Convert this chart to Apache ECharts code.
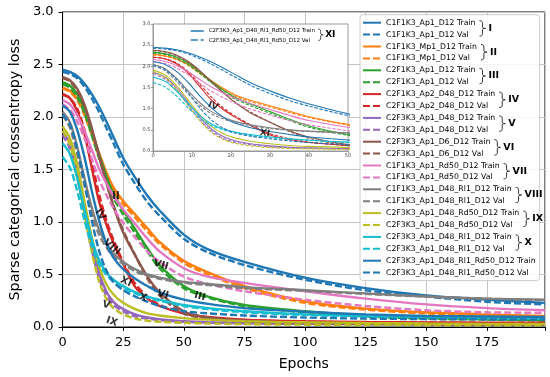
<!DOCTYPE html>
<html><head><meta charset="utf-8">
<script src="https://cdn.jsdelivr.net/npm/echarts@6/dist/echarts.min.js"></script>
<style>html,body{margin:0;padding:0;background:#fff}#c{width:550px;height:377px}</style>
</head><body><div id="c"></div>
<script>
// ---- data ----
const epochs = [0, 3, 6, 9, 12, 15, 18, 21, 25, 30, 35, 40, 50, 60, 75, 100, 125, 150, 175, 199];
const modelNames = [
  'C1F1K3_Ap1_D12', 'C1F1K3_Mp1_D12', 'C2F1K3_Ap1_D12', 'C2F1K3_Ap2_D48_D12',
  'C2F3K3_Ap1_D48_D12', 'C2F3K3_Ap1_D6_D12', 'C1F1K3_Ap1_Rd50_D12', 'C1F1K3_Ap1_D48_Rl1_D12',
  'C2F3K3_Ap1_D48_Rd50_D12', 'C2F3K3_Ap1_D48_Rl1_D12', 'C2F3K3_Ap1_D48_Rl1_Rd50_D12'];
const groupNumerals = ['I','II','III','IV','V','VI','VII','VIII','IX','X','XI'];

const I_train    = [2.45,2.43,2.39,2.32,2.22,2.10,1.96,1.81,1.61,1.42,1.25,1.11,0.88,0.74,0.62,0.47,0.37,0.30,0.26,0.23];
const I_val      = [2.43,2.41,2.37,2.29,2.18,2.05,1.90,1.75,1.55,1.36,1.19,1.06,0.84,0.71,0.59,0.45,0.35,0.29,0.24,0.215];
const II_train   = [2.28,2.25,2.18,2.05,1.86,1.66,1.48,1.33,1.20,1.07,0.94,0.81,0.63,0.52,0.39,0.245,0.175,0.14,0.12,0.105];
const II_val     = [2.27,2.24,2.16,2.02,1.83,1.63,1.45,1.30,1.17,1.04,0.91,0.79,0.61,0.50,0.37,0.23,0.165,0.13,0.11,0.10];
const III_train  = [2.33,2.30,2.22,2.08,1.87,1.65,1.44,1.27,1.11,0.93,0.75,0.59,0.39,0.29,0.21,0.15,0.11,0.09,0.075,0.065];
const III_val    = [2.31,2.28,2.19,2.04,1.83,1.61,1.40,1.23,1.07,0.89,0.72,0.56,0.37,0.28,0.20,0.14,0.10,0.08,0.07,0.06];
const IV_train   = [2.22,2.18,2.06,1.84,1.52,1.20,0.98,0.80,0.60,0.38,0.27,0.20,0.13,0.095,0.07,0.055,0.048,0.044,0.041,0.04];
const IV_val     = [2.21,2.18,2.08,1.88,1.58,1.27,1.02,0.83,0.62,0.41,0.29,0.21,0.13,0.09,0.065,0.05,0.044,0.04,0.037,0.035];
const V_train    = [1.86,1.75,1.50,1.15,0.80,0.52,0.34,0.24,0.17,0.12,0.09,0.075,0.055,0.045,0.038,0.032,0.029,0.027,0.025,0.024];
const V_val      = [1.83,1.70,1.44,1.08,0.74,0.47,0.30,0.21,0.15,0.10,0.08,0.066,0.05,0.042,0.035,0.03,0.027,0.025,0.023,0.022];
const VI_train   = [2.38,2.35,2.27,2.12,1.90,1.64,1.38,1.15,0.90,0.68,0.48,0.33,0.15,0.09,0.06,0.04,0.033,0.029,0.026,0.025];
const VI_val     = [2.37,2.34,2.25,2.10,1.88,1.63,1.38,1.16,0.92,0.68,0.46,0.30,0.13,0.08,0.055,0.04,0.032,0.028,0.025,0.024];
const VII_train  = [2.16,2.12,2.02,1.87,1.69,1.51,1.37,1.25,1.12,0.98,0.84,0.72,0.56,0.48,0.42,0.34,0.27,0.215,0.18,0.16];
const VII_val    = [2.12,2.07,1.96,1.80,1.60,1.41,1.26,1.13,0.99,0.85,0.72,0.62,0.48,0.41,0.34,0.26,0.20,0.16,0.14,0.135];
const VIII_train = [2.05,1.95,1.72,1.42,1.14,0.93,0.80,0.70,0.62,0.55,0.50,0.47,0.43,0.41,0.38,0.35,0.32,0.29,0.27,0.26];
const VIII_val   = [2.02,1.90,1.65,1.35,1.08,0.88,0.76,0.67,0.60,0.53,0.49,0.46,0.42,0.40,0.37,0.345,0.315,0.29,0.27,0.255];
const IX_train   = [1.91,1.80,1.55,1.20,0.86,0.58,0.41,0.31,0.23,0.17,0.13,0.11,0.085,0.07,0.055,0.045,0.038,0.033,0.03,0.028];
const IX_val     = [1.87,1.74,1.46,1.08,0.72,0.44,0.27,0.18,0.12,0.08,0.06,0.05,0.04,0.033,0.027,0.022,0.019,0.017,0.016,0.015];
const X_train    = [1.75,1.65,1.42,1.12,0.84,0.64,0.52,0.45,0.39,0.33,0.29,0.26,0.21,0.18,0.15,0.12,0.105,0.095,0.085,0.08];
const X_val      = [1.62,1.52,1.30,1.02,0.78,0.60,0.50,0.43,0.37,0.32,0.28,0.25,0.20,0.17,0.14,0.115,0.10,0.09,0.082,0.078];
const XI_train   = [2.11,2.05,1.88,1.62,1.30,1.02,0.80,0.66,0.55,0.46,0.39,0.33,0.26,0.22,0.18,0.145,0.12,0.105,0.10,0.095];
const XI_val     = [2.02,1.93,1.70,1.38,1.02,0.73,0.54,0.43,0.35,0.29,0.24,0.20,0.15,0.13,0.11,0.09,0.08,0.075,0.072,0.07];

const mainTicksX = [0, 25, 50, 75, 100, 125, 150, 175];
// curve labels: [text, epoch, loss, rotation]
const mainAnnotations = [
  ['I', 31.5, 1.37, 0], ['II', 22, 1.24, 0], ['IV', 15.6, 1.07, -55], ['VIII', 20.3, 0.76, -40],
  ['VII', 40.6, 0.59, -15], ['XI', 26.2, 0.43, -25], ['X', 33.2, 0.28, -20], ['VI', 41.4, 0.31, -15],
  ['V', 18, 0.21, -15], ['IX', 20.3, 0.05, -20], ['III', 56.6, 0.29, -15]];
const insetAnnotations = [['IV', 15.4, 1.06, -20], ['XI', 28.7, 0.42, -10]];

// ---- build ----
const trainCurves = [I_train, II_train, III_train, IV_train, V_train, VI_train, VII_train, VIII_train, IX_train, X_train, XI_train];
const valCurves = [I_val, II_val, III_val, IV_val, V_val, VI_val, VII_val, VIII_val, IX_val, X_val, XI_val];
const palette = ['#1f77b4','#ff7f0e','#2ca02c','#d62728','#9467bd','#8c564b','#e377c2','#7f7f7f','#bcbd22','#17becf','#1f77b4'];
const FONT = 'DejaVu Sans';

const series = [];
const legendNames = [];
function addLines(grid, width, dash, z) {
  modelNames.forEach((m, i) => {
    [['Train', trainCurves[i], 'solid'], ['Val', valCurves[i], dash]].forEach(([kind, vals, type]) => {
      const name = m + ' ' + kind;
      if (grid === 0) legendNames.push(name);
      series.push({
        type: 'line', name, xAxisIndex: grid, yAxisIndex: grid,
        data: epochs.map((e, k) => [e, vals[k]]),
        symbol: 'none', smooth: 0.3, z,
        lineStyle: { color: palette[i], width, type },
        itemStyle: { color: palette[i] }, silent: true
      });
    });
  });
}
addLines(0, 2.4, [7, 3], 2);
addLines(1, 1.1, [3.5, 1.6], 7);

function annoSeries(list, grid, size, z) {
  return {
    type: 'scatter', xAxisIndex: grid, yAxisIndex: grid, symbolSize: 0, silent: true, z,
    data: list.map(a => ({ value: [a[1], a[2]], label: { rotate: a[3] } })),
    label: { show: true, position: 'inside', formatter: p => list[p.dataIndex][0],
      fontFamily: FONT, fontWeight: 'bold', fontSize: size, color: '#000' }
  };
}
series.push(annoSeries(mainAnnotations, 0, 10, 3));
series.push(annoSeries(insetAnnotations, 1, 9, 8));

// braces next to legend pairs
const ctx = document.createElement('canvas').getContext('2d');
function tw(t, fs, w) { ctx.font = (w || 'normal') + ' ' + fs + 'px "' + FONT + '"'; return ctx.measureText(t).width; }
function quad(p0, p1, p2, out) {
  for (let t = 0; t <= 1.0001; t += 0.2) {
    const a = (1 - t) * (1 - t), b = 2 * (1 - t) * t, c = t * t;
    out.push([a * p0[0] + b * p1[0] + c * p2[0], a * p0[1] + b * p1[1] + c * p2[1]]);
  }
}
function bracePoints(x, y1, y2, w) {
  const m = (y1 + y2) / 2, h = x + w / 2, pts = [];
  quad([x, y1], [h, y1], [h, y1 + 2.5], pts);
  quad([h, m - 1.5], [h, m], [x + w, m], pts);
  quad([x + w, m], [h, m], [h, m + 1.5], pts);
  quad([h, y2 - 2.5], [h, y2], [x, y2], pts);
  return pts;
}
const graphics = [];
const LEG_FS = 7.75, ROW0 = 22.7, PITCH = 11.9, TEXT_X = 385;
for (let g = 0; g < 10; g++) {
  const end = TEXT_X + Math.max(tw(modelNames[g] + ' Train', LEG_FS), tw(modelNames[g] + ' Val', LEG_FS));
  const y1 = ROW0 + PITCH * 2 * g - 2, y2 = ROW0 + PITCH * (2 * g + 1) + 1.5;
  graphics.push({ type: 'polyline', z: 20, shape: { points: bracePoints(end + 5, y1, y2, 6) },
    style: { fill: null, stroke: '#000', lineWidth: 0.8 } });
  graphics.push({ type: 'text', z: 20, x: end + 14, y: (y1 + y2) / 2,
    style: { text: groupNumerals[g], font: 'bold 9.5px "' + FONT + '"', fill: '#000', verticalAlign: 'middle', textVerticalAlign: 'middle' } });
}
{
  const fs = 5.5, end = 208 + tw(modelNames[10] + ' Train', fs);
  const y1 = 29, y2 = 40.5;
  graphics.push({ type: 'polyline', z: 20, shape: { points: bracePoints(end + 4, y1, y2, 5) },
    style: { fill: null, stroke: '#000', lineWidth: 0.7 } });
  graphics.push({ type: 'text', z: 20, x: end + 11, y: (y1 + y2) / 2,
    style: { text: groupNumerals[10], font: 'bold 9px "' + FONT + '"', fill: '#000', verticalAlign: 'middle', textVerticalAlign: 'middle' } });
}

const chart = echarts.init(document.getElementById('c'), null, { renderer: 'canvas' });
chart.setOption({
  animation: false,
  textStyle: { fontFamily: FONT },
  grid: [
    { left: 59, right: 5, top: 12, bottom: 50, show: true, borderColor: '#000', borderWidth: 1, backgroundColor: 'transparent' },
    { left: 153, top: 24, width: 195, height: 127, show: true, backgroundColor: '#fff', borderColor: '#999', borderWidth: 1, z: 5 }
  ],
  xAxis: [
    { type: 'value', gridIndex: 0, min: 0, max: 199, interval: 25,
      name: 'Epochs', nameLocation: 'middle', nameGap: 30,
      nameTextStyle: { fontSize: 14, color: '#000', fontFamily: FONT },
      axisLine: { show: true, lineStyle: { color: '#000', width: 1 } },
      axisTick: { show: true, length: 4, lineStyle: { color: '#000' } },
      axisLabel: { fontSize: 13, color: '#000', margin: 9, fontFamily: FONT,
        formatter: v => mainTicksX.includes(v) ? String(v) : '' },
      splitLine: { show: true, lineStyle: { color: '#c4c4c4', width: 1 } } },
    { type: 'value', gridIndex: 1, min: 0, max: 50, interval: 10, z: 6,
      axisLine: { show: true, lineStyle: { color: '#999', width: 1 } },
      axisTick: { show: true, length: 2, lineStyle: { color: '#999' } },
      axisLabel: { fontSize: 5, color: '#444', margin: 2.5, fontFamily: FONT },
      splitLine: { show: false } }
  ],
  yAxis: [
    { type: 'value', gridIndex: 0, min: 0, max: 3, interval: 0.5,
      name: 'Sparse categorical crossentropy loss', nameLocation: 'middle', nameGap: 38,
      nameTextStyle: { fontSize: 14.3, color: '#000', fontFamily: FONT },
      axisLine: { show: true, lineStyle: { color: '#000', width: 1 } },
      axisTick: { show: true, length: 4, lineStyle: { color: '#000' } },
      axisLabel: { fontSize: 13, color: '#000', margin: 9, fontFamily: FONT, formatter: v => v.toFixed(1) },
      splitLine: { show: true, lineStyle: { color: '#c4c4c4', width: 1 } } },
    { type: 'value', gridIndex: 1, min: 0, max: 3, interval: 0.5, z: 6,
      axisLine: { show: true, lineStyle: { color: '#999', width: 1 } },
      axisTick: { show: true, length: 2, lineStyle: { color: '#999' } },
      axisLabel: { fontSize: 5, color: '#444', margin: 2.5, fontFamily: FONT, formatter: v => v.toFixed(1) },
      splitLine: { show: false } }
  ],
  legend: [
    { data: legendNames, orient: 'vertical', left: 360, top: 14.7, padding: [4, 4, 4, 2],
      itemWidth: 18, itemHeight: 8, itemGap: 3.9, z: 10, selectedMode: false,
      backgroundColor: 'rgba(255,255,255,0.85)', borderColor: '#ccc', borderWidth: 1, borderRadius: 3,
      lineStyle: { width: 2 }, itemStyle: { opacity: 0 },
      textStyle: { fontSize: LEG_FS, color: '#000', fontFamily: FONT, lineHeight: 8 } },
    { data: legendNames.slice(20), orient: 'vertical', left: 190, top: 28, padding: 0,
      itemWidth: 13, itemHeight: 5.5, itemGap: 3.1, z: 10, selectedMode: false,
      lineStyle: { width: 1.5 }, itemStyle: { opacity: 0 },
      textStyle: { fontSize: 5.5, color: '#000', fontFamily: FONT, lineHeight: 5.5 } }
  ],
  graphic: graphics,
  series
});
</script></body></html>
